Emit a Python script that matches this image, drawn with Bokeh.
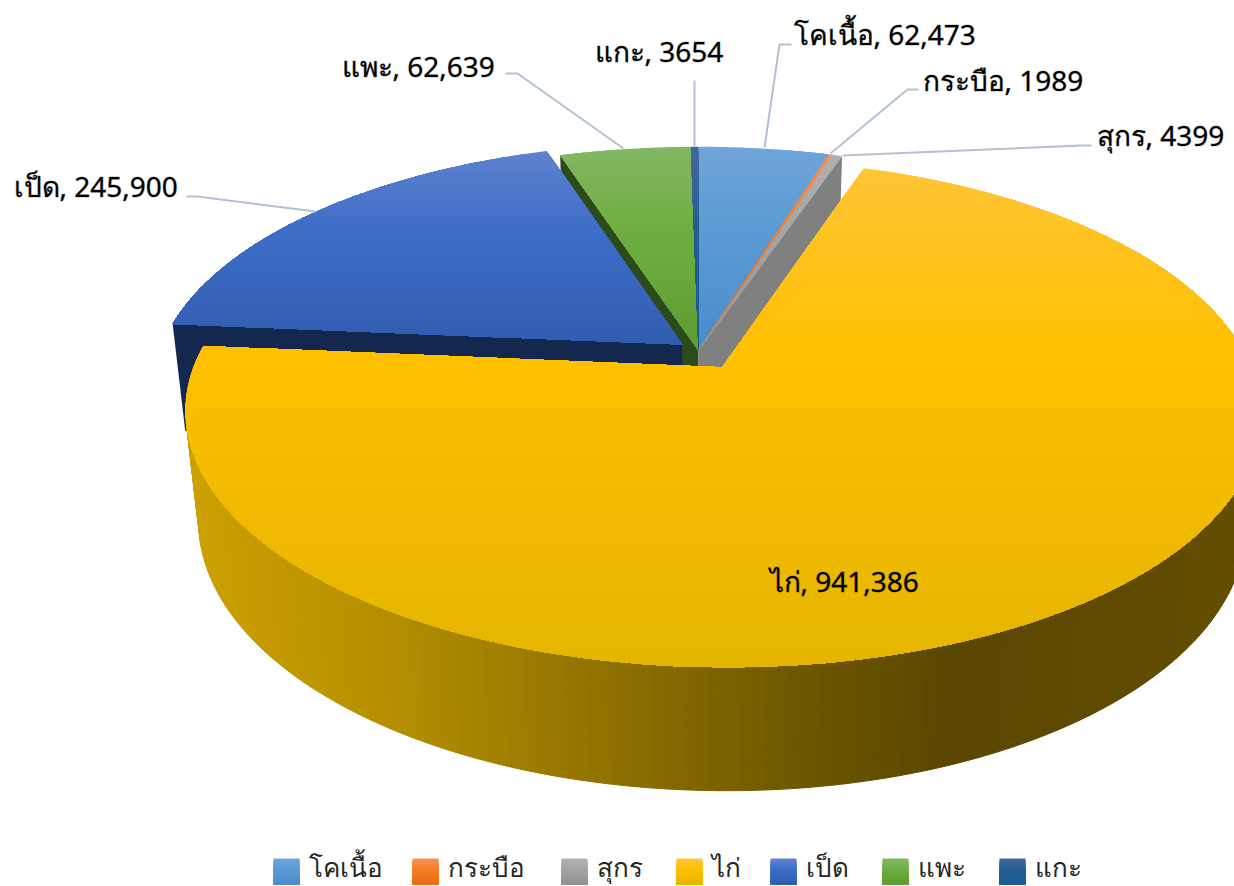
import math
from bokeh.embed import file_html
from bokeh.resources import INLINE
from bokeh.plotting import figure
from bokeh.models import Range1d, ColumnDataSource
from bokeh.core.properties import value

categories = ["โคเนื้อ", "กระบือ", "สุกร", "ไก่", "เป็ด", "แพะ", "แกะ"]
animal_counts = [62473, 1989, 4399, 941386, 245900, 62639, 3654]
label_texts = ["โคเนื้อ, 62,473", "กระบือ, 1989", "สุกร, 4399", "ไก่, 941,386",
               "เป็ด, 245,900", "แพะ, 62,639", "แกะ, 3654"]

FONT = "Noto Sans"
W, H = 1234, 886
CX, CY, KX, KY, P, Q, DEPTH = 698, 350, 522, 240, 0.178, 0.025, 111
EXPLODE = [0, 0, 0, 0.082, 0.04, 0, 0]
GRAD = [
    ("#70A4DA", "#5B9BD5", "#4A8DCC"),
    ("#F4915A", "#F47E26", "#E96D15"),
    ("#B0B0B0", "#A5A5A5", "#929292"),
    ("#FFC63C", "#FFC000", "#E4B500"),
    ("#5F82CE", "#3E6DC7", "#2F5EB0"),
    ("#83B763", "#6FAE42", "#5E9D31"),
    ("#44699B", "#255E91", "#1B5C94"),
]
FACE = {"goat": "#2D4A1C", "pig": "#808080", "duck": "#14284F"}
SIDE_STOPS = [(185, (0xCC, 0xA1, 0x00)), (400, (0xB2, 0x8D, 0x00)), (600, (0x90, 0x72, 0x00)),
              (800, (0x6E, 0x57, 0x00)), (950, (0x5A, 0x47, 0x00)), (1240, (0x62, 0x4D, 0x00))]

p = figure(width=W, height=H, output_backend="svg", toolbar_location=None,
           x_range=Range1d(0, W), y_range=Range1d(H, 0),
           min_border=0, outline_line_color=None, background_fill_color="white")
p.axis.visible = False
p.grid.visible = False

total = sum(animal_counts)
angles = [0.0]
for v in animal_counts:
    angles.append(angles[-1] + 360.0 * v / total)


def project(u, v, bottom=False):
    d = 1 + P * v + (Q if bottom else 0)
    return CX + u * KX / d, CY + (-v * KY + (DEPTH if bottom else 0)) / d


def offs(i):
    mid = math.radians((angles[i] + angles[i + 1]) / 2)
    e = EXPLODE[i]
    return e * math.sin(mid), e * math.cos(mid)


def rim(i, deg, bottom=False):
    du, dv = offs(i)
    a = math.radians(deg)
    return project(du + math.sin(a), dv + math.cos(a), bottom)


def apex(i, bottom=False):
    du, dv = offs(i)
    return project(du, dv, bottom)


def clip_below(poly, y0):
    out = []
    for j in range(len(poly)):
        a, b = poly[j], poly[(j + 1) % len(poly)]
        ina, inb = a[1] >= y0, b[1] >= y0
        if ina:
            out.append(a)
        if ina != inb:
            t = (y0 - a[1]) / (b[1] - a[1])
            out.append((a[0] + t * (b[0] - a[0]), y0))
    return out


def hex_mix(c1, c2, t):
    a = [int(c1[k:k + 2], 16) for k in (1, 3, 5)]
    b = [int(c2[k:k + 2], 16) for k in (1, 3, 5)]
    return "#%02X%02X%02X" % tuple(round(a[k] + (b[k] - a[k]) * t) for k in range(3))


def grad_col(g, t):
    return hex_mix(g[0], g[1], t / 0.4) if t < 0.4 else hex_mix(g[1], g[2], (t - 0.4) / 0.6)


def draw_patches(polys, cols, lines=None):
    src = ColumnDataSource(dict(xs=[[q[0] for q in P_] for P_ in polys],
                                ys=[[q[1] for q in P_] for P_ in polys],
                                c=cols, l=lines if lines else cols))
    if lines:
        p.patches("xs", "ys", source=src, fill_color="c", line_color="l", line_width=1)
    else:
        p.patches("xs", "ys", source=src, fill_color="c", line_color=None)


def top_poly(i):
    n = max(2, int((angles[i + 1] - angles[i]) * 2))
    pts = [apex(i)]
    for k in range(n + 1):
        pts.append(rim(i, angles[i] + (angles[i + 1] - angles[i]) * k / n))
    return pts


def draw_top(i):
    poly = top_poly(i)
    ys = [q[1] for q in poly]
    y0, y1 = min(ys), max(ys)
    if i == 3:
        y0, y1 = 145, 667
    polys, cols = [], []
    y = min(ys)
    while y < max(ys):
        c = clip_below(poly, y)
        if len(c) >= 3:
            polys.append(c)
            cols.append(grad_col(GRAD[i], max(0, min(1, (y + 1.5 - y0) / (y1 - y0)))))
        y += 3
    draw_patches(polys, cols)


def radial_face(i, deg, col):
    draw_patches([[apex(i), rim(i, deg), rim(i, deg, True), apex(i, True)]], [col])


def side_col(x):
    for (x0, c0), (x1, c1) in zip(SIDE_STOPS, SIDE_STOPS[1:]):
        if x <= x1:
            t = max(0, (x - x0) / (x1 - x0))
            return "#%02X%02X%02X" % tuple(round(c0[k] + (c1[k] - c0[k]) * t) for k in range(3))
    return "#624D00"


# back faces
radial_face(5, angles[5], FACE["goat"])
radial_face(2, angles[3], FACE["pig"])
for i in (0, 1, 2, 5, 6):
    draw_top(i)
radial_face(4, angles[4], FACE["duck"])
draw_top(4)

# chicken outer wall, shaded across its width
polys, cols = [], []
d = angles[3] + 40
while d < angles[4] - 0.01:
    e = min(d + 1.0, angles[4])
    a, b = rim(3, d), rim(3, e)
    c, f = rim(3, e, True), rim(3, d, True)
    polys.append([a, b, c, f])
    cols.append(side_col((a[0] + b[0]) / 2))
    d = e
draw_patches(polys, cols, cols)
draw_top(3)

# leader lines
LEADERS = [
    ([764, 779, 791], [147, 44, 44]),
    ([830, 907, 918], [153, 89, 89]),
    ([842, 1080, 1091], [155, 145, 145]),
    ([694, 694], [146, 80]),
    ([623, 517, 505], [148, 73, 73]),
    ([315, 197, 186], [211, 196, 196]),
]
for lx, ly in LEADERS:
    p.line(lx, ly, line_color="#B4C1D3", line_width=2)

# data labels
LABEL_X = [793, 922, 1096, 769, 13, 341, 594]
LABEL_Y = [33, 79, 134, 580, 185, 65, 50]
p.text(LABEL_X, LABEL_Y, text=label_texts, text_font=value(FONT), text_font_size="28px",
       text_color="#000000", text_align="left", text_baseline="middle",
       text_outline_color="#00000055")

# legend
LEG_X = [273, 412, 561, 676, 770, 882, 999]
for i, x0 in enumerate(LEG_X):
    polys, cols = [], []
    for k in range(13):
        y = 858 + k * 2
        polys.append([(x0, y), (x0 + 26, y), (x0 + 26, 884), (x0, 884)])
        cols.append(grad_col(GRAD[i], k / 12))
    draw_patches(polys, cols)
p.text([x + 35 for x in LEG_X], [866] * 7, text=categories, text_font=value(FONT),
       text_font_size="26px", text_color="#262626", text_align="left", text_baseline="middle")

open("out.html", "w").write(file_html(p, INLINE))
